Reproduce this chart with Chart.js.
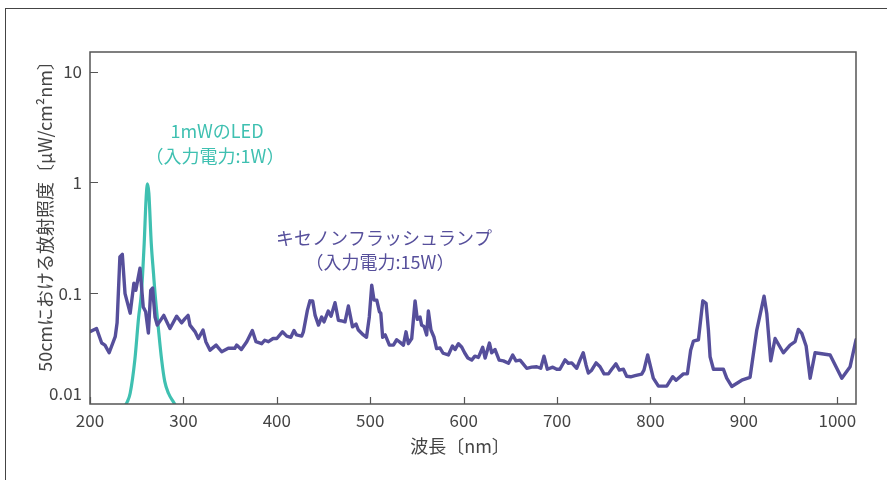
<!DOCTYPE html>
<html>
<head>
<meta charset="utf-8">
<script src="https://cdn.jsdelivr.net/npm/chart.js@4.4.1/dist/chart.umd.min.js"></script>
<style>
  html, body { margin: 0; padding: 0; background: #fff; overflow: hidden; }
  #frame { position: absolute; left: 5px; top: 8px; width: 1000px; height: 1000px; border: 1px solid #444; }
  #wrap { position: absolute; left: 0; top: 0; width: 887px; height: 480px; }
</style>
</head>
<body>
<div id="frame"></div>
<div id="wrap"><canvas id="chart_irradiance" width="887" height="480"></canvas></div>
<script>
// xenon flash lamp spectrum (nm, uW/cm2nm at 50cm)
var xenonNm = [200, 207, 212.5, 216, 220.5, 227, 229, 232, 234.6, 237.5, 243, 247, 249, 253.5, 257, 259.6, 262.5, 265, 267, 269.6,
  272, 279, 285.6, 292.8, 298, 301.7, 305, 307, 312.4, 316, 321, 324, 328.5, 335, 341, 348, 355, 357, 362, 367.8,
  373.8, 377.7, 383.8, 387, 391, 396, 400, 406, 410.6, 415, 418.4, 421, 426.6, 428.4, 432.7, 435.5, 438.4, 441, 444.6, 448,
  450.5, 455, 458, 462.3, 465.9, 470.5, 473, 476.6, 481, 484.8, 487.3, 492.6, 496, 499, 501.6, 504, 507, 509.8, 511.3, 513.3,
  516, 520.5, 524.8, 528.3, 532, 535.5, 538.3, 540.8, 544.4, 548, 550.4, 553.3, 555, 557.6, 560.4, 562.2, 565, 568.3, 571, 574.7,
  578, 583.6, 588, 590.8, 594.4, 598, 601, 604.5, 608.6, 612, 615.8, 620.4, 623, 627.6, 630, 633.6, 638, 642.5, 648, 652.5,
  656, 660.4, 667.5, 672.8, 678.2, 682.5, 686, 689.6, 695.4, 699.6, 703, 708.6, 712, 715.7, 721, 724.6, 728, 731, 733.5, 737,
  741.8, 746, 750.3, 755, 758.5, 763, 766.7, 771, 774.5, 778.8, 783.5, 790.6, 793, 797, 800.5, 803, 808.5, 817.4, 823.8, 827.4,
  835.2, 839.5, 843, 846, 851.3, 856, 859.5, 862, 863.8, 867.4, 878, 881.6, 887, 897.7, 906.6, 913.8, 921.6, 924.5, 928.7, 933.4,
  942.2, 949.4, 954.8, 958.3, 962, 966.6, 970.9, 976.2, 992.3, 1004.8, 1013.7, 1020];
var xenonVal = [0.045, 0.048, 0.0355, 0.034, 0.029, 0.0405, 0.054, 0.212, 0.224, 0.099, 0.066, 0.123, 0.106, 0.168, 0.075, 0.068, 0.0436, 0.106, 0.111, 0.061,
  0.0515, 0.063, 0.048, 0.062, 0.054, 0.059, 0.063, 0.0515, 0.045, 0.039, 0.0465, 0.0365, 0.0306, 0.034, 0.0296, 0.0318, 0.0318, 0.034, 0.031, 0.0365,
  0.046, 0.0365, 0.035, 0.0376, 0.0365, 0.039, 0.039, 0.0448, 0.041, 0.040, 0.046, 0.042, 0.041, 0.0448, 0.070, 0.0853, 0.085, 0.063, 0.0515, 0.061,
  0.0551, 0.069, 0.062, 0.082, 0.057, 0.056, 0.0551, 0.0766, 0.0497, 0.0526, 0.0465, 0.042, 0.040, 0.061, 0.118, 0.0866, 0.0866, 0.068, 0.066, 0.040,
  0.042, 0.034, 0.034, 0.038, 0.036, 0.034, 0.0448, 0.035, 0.039, 0.085, 0.058, 0.061, 0.0515, 0.050, 0.042, 0.069, 0.0465, 0.040, 0.0316, 0.032,
  0.0287, 0.0277, 0.0334, 0.031, 0.035, 0.0325, 0.029, 0.026, 0.0249, 0.027, 0.0263, 0.0325, 0.026, 0.0355, 0.029, 0.031, 0.0249, 0.0245, 0.0233, 0.0277,
  0.0245, 0.0249, 0.021, 0.0215, 0.0217, 0.021, 0.027, 0.0206, 0.0215, 0.0206, 0.0206, 0.025, 0.0233, 0.0235, 0.021, 0.025, 0.029, 0.0225, 0.019, 0.0202,
  0.0235, 0.0217, 0.0187, 0.0187, 0.0206, 0.023, 0.0202, 0.0206, 0.0178, 0.0176, 0.018, 0.0186, 0.0202, 0.0277, 0.021, 0.0171, 0.0145, 0.0145, 0.0176, 0.0164,
  0.0187, 0.0187, 0.0306, 0.037, 0.038, 0.0853, 0.081, 0.0465, 0.0267, 0.0206, 0.0206, 0.0171, 0.0144, 0.0164, 0.0174, 0.0465, 0.094, 0.0657, 0.0245, 0.039,
  0.029, 0.034, 0.0365, 0.047, 0.0434, 0.0334, 0.0171, 0.029, 0.0277, 0.0171, 0.0217, 0.038];

// 1mW LED spectrum
var ledNm = [225, 236, 240, 243, 248, 252, 255, 258, 260, 261.5, 263, 265.6, 268, 269.6, 273, 276.7, 280, 284, 290, 305];
var ledVal = [0.006, 0.0092, 0.0105, 0.0125, 0.025, 0.06, 0.1, 0.28, 0.7, 0.97, 0.8, 0.28, 0.15, 0.1, 0.05, 0.025, 0.016, 0.0125, 0.0102, 0.006];

var xTicks = [200, 300, 400, 500, 600, 700, 800, 900, 1000];
var yTicks = [0.01, 0.1, 1, 10];

var XENON_COLOR = '#564f9b';
var LED_COLOR = '#3fc0b1';
var AXIS_COLOR = '#555';
var FONT = '"Noto Sans CJK JP", "Noto Sans", sans-serif';

function toPoints(xs, ys) {
  return xs.map(function(x, i) { return { x: x, y: ys[i] }; });
}

var chart_irradiance = new Chart(document.getElementById('chart_irradiance'), {
  type: 'line',
  data: {
    datasets: [
      {
        label: 'キセノンフラッシュランプ',
        data: toPoints(xenonNm, xenonVal),
        borderColor: XENON_COLOR,
        borderWidth: 3.4,
        pointRadius: 0,
        tension: 0,
        borderJoinStyle: 'round',
        borderCapStyle: 'round'
      },
      {
        label: '1mWのLED',
        data: toPoints(ledNm, ledVal),
        borderColor: LED_COLOR,
        borderWidth: 3.2,
        pointRadius: 0,
        cubicInterpolationMode: 'monotone'
      }
    ]
  },
  options: {
    animation: false,
    responsive: false,
    layout: { padding: { left: 0, right: 31, top: 52, bottom: 0 } },
    plugins: {
      legend: { display: false },
      tooltip: { enabled: false }
    },
    scales: {
      x: {
        type: 'linear',
        min: 200,
        max: 1020,
        afterBuildTicks: function(scale) {
          scale.ticks = xTicks.map(function(v) { return { value: v }; });
        },
        afterFit: function(scale) { scale.height = 76; },
        grid: { display: false, drawTicks: false },
        border: { display: false },
        ticks: {
          padding: 6,
          color: '#444',
          font: { family: FONT, size: 17 },
          maxRotation: 0,
          callback: function(v) { return String(v); }
        }
      },
      y: {
        type: 'logarithmic',
        min: 0.01,
        max: 15,
        afterBuildTicks: function(scale) {
          scale.ticks = yTicks.map(function(v) { return { value: v }; });
        },
        afterFit: function(scale) { scale.width = 90; },
        grid: { display: false, drawTicks: false },
        border: { display: false },
        ticks: {
          padding: 8,
          color: '#444',
          font: { family: FONT, size: 17 },
          // bottom label sits a little above the axis line
          callback: function(v) { return v === 0.01 ? ['0.01', ''] : String(v); }
        }
      }
    }
  },
  plugins: [{
    id: 'frameAndText',
    afterDraw: function(chart) {
      var ctx = chart.ctx;
      var a = chart.chartArea;
      var xs = chart.scales.x, ys = chart.scales.y;
      ctx.save();
      ctx.strokeStyle = AXIS_COLOR;
      ctx.lineWidth = 1.5;
      ctx.strokeRect(a.left, a.top, a.right - a.left, a.bottom - a.top);
      ctx.lineWidth = 1.2;
      ctx.beginPath();
      xTicks.forEach(function(v) {
        var px = Math.round(xs.getPixelForValue(v)) + 0.5;
        ctx.moveTo(px, a.bottom);
        ctx.lineTo(px, a.bottom - 7);
      });
      yTicks.slice(1).forEach(function(v) {
        var py = Math.round(ys.getPixelForValue(v)) + 0.5;
        ctx.moveTo(a.left, py);
        ctx.lineTo(a.left + 8, py);
      });
      ctx.stroke();

      ctx.textAlign = 'center';
      ctx.textBaseline = 'middle';
      // axis titles
      ctx.fillStyle = '#444';
      ctx.font = '18px ' + FONT;
      ctx.fillText('波長〔nm〕', 460, 446);
      ctx.save();
      ctx.translate(45, 212);
      ctx.rotate(-Math.PI / 2);
      ctx.fillText('50cmにおける放射照度〔μW/cm²nm〕', 0, 0);
      ctx.restore();
      // series labels
      ctx.font = '18px ' + FONT;
      ctx.fillStyle = LED_COLOR;
      ctx.fillText('1mWのLED', 217, 131);
      ctx.fillText('（入力電力:1W）', 215, 156);
      ctx.fillStyle = XENON_COLOR;
      ctx.fillText('キセノンフラッシュランプ', 384, 238);
      ctx.fillText('（入力電力:15W）', 380, 262);
      ctx.restore();
    }
  }]
});
</script>
</body>
</html>
